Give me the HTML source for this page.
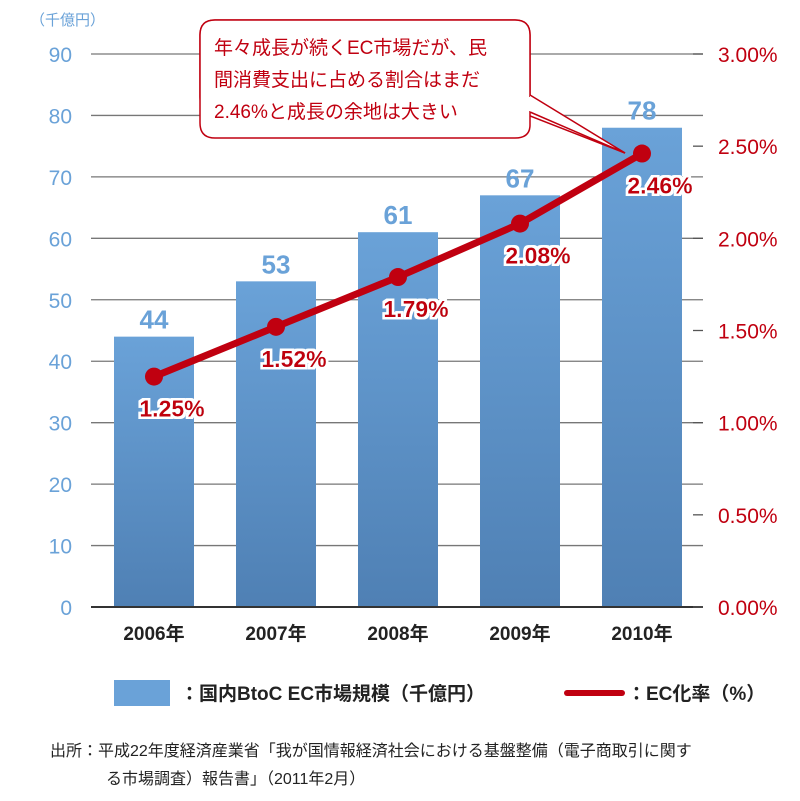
<!DOCTYPE html>
<html><head><meta charset="utf-8"><style>
body{margin:0;background:#fff;}
svg text{font-family:"Liberation Sans","Noto Sans CJK JP",sans-serif;}
</style></head><body>
<svg width="800" height="796" viewBox="0 0 800 796">
<defs>
<linearGradient id="bg" x1="0" y1="0" x2="0" y2="1"><stop offset="0" stop-color="#6aa2d8"/><stop offset="1" stop-color="#4f80b4"/></linearGradient>
<filter id="halo"><feMorphology in="SourceAlpha" operator="dilate" radius="2.5" result="d"/><feFlood flood-color="#fff"/><feComposite in2="d" operator="in"/><feMerge><feMergeNode/><feMergeNode in="SourceGraphic"/></feMerge></filter>
</defs>
<g id="grid"></g><g id="bars"></g><g id="line"></g><g id="labels"></g>
<text x="30" y="25" font-size="15" fill="#6aa2d8">（千億円）</text>
<g>
<path d="M215,20 H515 Q530,20 530,35 V96 L625,153 L520,112 H215 Q200,112 200,97 V35 Q200,20 215,20 Z" fill="#fff" stroke="#c00010" stroke-width="1.5" transform="translate(0,0)"/>
<path d="M215,20 H515 Q530,20 530,35 V125 Q530,138 515,138 H215 Q200,138 200,123 V35 Q200,20 215,20 Z" fill="#fff" stroke="#c00010" stroke-width="1.5"/>
<polyline points="530,95 625,153 530,112" fill="#fff" stroke="#c00010" stroke-width="1.5"/>
<rect x="528" y="97" width="4" height="14" fill="#fff"/>
<text font-size="19" fill="#c00010"><tspan x="214" y="54">年々成長が続くEC市場だが、民</tspan><tspan x="214" y="86">間消費支出に占める割合はまだ</tspan><tspan x="214" y="118">2.46%と成長の余地は大きい</tspan></text>
</g>
<g>
<rect x="114" y="680" width="56" height="26" fill="#6aa2d8"/>
<text x="180" y="700" font-size="19" font-weight="bold" fill="#222">：国内BtoC EC市場規模（千億円）</text>
<line x1="567" y1="693" x2="622" y2="693" stroke="#c00010" stroke-width="6" stroke-linecap="round"/>
<text x="627" y="700" font-size="19" font-weight="bold" fill="#222">：EC化率（%）</text>
</g>
<text font-size="16" fill="#222"><tspan x="50" y="756">出所：平成22年度経済産業省「我が国情報経済社会における基盤整備（電子商取引に関す</tspan><tspan x="106" y="784">る市場調査）報告書」（2011年2月）</tspan></text>
</svg>
<script>
const years=["2006年","2007年","2008年","2009年","2010年"];
const marketSize=[44,53,61,67,78];
const ecRate=[1.25,1.52,1.79,2.08,2.46];
const leftTicks=[0,10,20,30,40,50,60,70,80,90];
const rightTicks=[0,0.5,1,1.5,2,2.5,3];
const NS="http://www.w3.org/2000/svg";
const y0=607,yTop=54,xL=91,xR=703;
function yL(v){return y0-(v/90)*(y0-yTop);}
function yR(v){return y0-(v/3)*(y0-yTop);}
function xC(i){return 154+i*122;}
function mk(tag,attrs,parent,txt){const e=document.createElementNS(NS,tag);for(const k in attrs)e.setAttribute(k,attrs[k]);if(txt!==undefined)e.textContent=txt;parent.appendChild(e);return e;}
const G=document.getElementById('grid'),B=document.getElementById('bars'),L=document.getElementById('line'),T=document.getElementById('labels');
leftTicks.forEach(v=>{
 const y=yL(v);
 const g=mk('line',{x1:xL,x2:xR,y1:y,y2:y,stroke:v===0?'#333':'#777','stroke-width':v===0?2:1.3},G);
 
 
 const t=mk('text',{x:72,y:y+8,'text-anchor':'end','font-size':21,fill:'#6aa2d8'},G,String(v));
 
 
});
rightTicks.forEach(v=>{
 const y=yR(v);
 const k=mk('line',{x1:693,x2:703,y1:y,y2:y,stroke:'#555','stroke-width':1.3},G);
 
 
 const t=mk('text',{x:718,y:y+8,'font-size':21,fill:'#c00010'},G,v.toFixed(2)+'%');
 
 
});
years.forEach((yr,i)=>{
 const w=80,x=xC(i)-w/2,y=yL(marketSize[i]);
 const r=mk('rect',{x:x,y:y,width:w,height:y0-y-1,fill:'url(#bg)'},B);
 
 
 const v=mk('text',{x:xC(i),y:y-8,'text-anchor':'middle','font-size':26,'font-weight':'bold',fill:'#6aa2d8'},T,String(marketSize[i]));
 
 
 const c=mk('text',{x:xC(i),y:640,'text-anchor':'middle','font-size':19,'font-weight':'bold',fill:'#222'},T,yr);
 
 
});
const pts=ecRate.map((v,i)=>[xC(i),yR(v)]);
const pl=mk('polyline',{points:pts.map(p=>p.join(',')).join(' '),fill:'none',stroke:'#c00010','stroke-width':7,'stroke-linejoin':'round'},L);


pts.forEach((p,i)=>{
 const c=mk('circle',{cx:p[0],cy:p[1],r:9,fill:'#c00010'},L);
 
 
 const t=mk('text',{x:p[0]+18,y:p[1]+40,'text-anchor':'middle','font-size':23,'font-weight':'bold',fill:'#c00010',filter:'url(#halo)'},T,ecRate[i].toFixed(2)+'%');
 
 
});
</script>
</body></html>
